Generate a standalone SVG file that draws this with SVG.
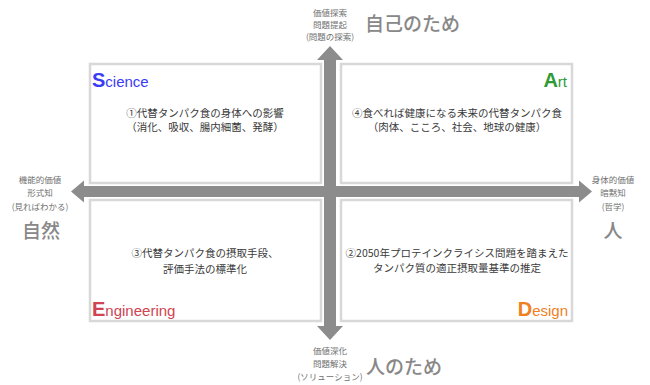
<svg xmlns="http://www.w3.org/2000/svg" width="650" height="385" viewBox="0 0 650 385">
<style>
  text { font-family: "Noto Sans CJK JP", "Liberation Sans", sans-serif; }
  .box { fill: #ffffff; stroke: #d8d8d8; stroke-width: 2.5; }
  .arrow { fill: #8c8c8c; }
  .q { font-size: 10.5px; fill: #3a3a3a; text-anchor: middle; }
  .small { font-size: 8.5px; fill: #707070; text-anchor: middle; }
  .big { font-size: 19px; fill: #888888; font-weight: 500; }
  .lab { font-family: "Liberation Sans", "Noto Sans", sans-serif; font-size: 15px; }
  .cap { font-size: 20px; font-weight: bold; }
</style>
<rect width="650" height="385" fill="#ffffff"/>

<g id="science">
  <rect class="box" x="90" y="64" width="231" height="119"/>
  <text class="lab" x="92" y="87" fill="#3b3bf5"><tspan class="cap">S</tspan>cience</text>
  <text class="q" x="205" y="117">①代替タンパク食の身体への影響</text>
  <text class="q" x="205" y="131">（消化、吸収、腸内細菌、発酵）</text>
</g>

<g id="art">
  <rect class="box" x="341" y="64" width="231" height="119"/>
  <text class="lab" x="567" y="87" fill="#2e9a35" text-anchor="end"><tspan class="cap">A</tspan>rt</text>
  <text class="q" x="457" y="117">④食べれば健康になる未来の代替タンパク食</text>
  <text class="q" x="457" y="131">（肉体、こころ、社会、地球の健康）</text>
</g>

<g id="engineering">
  <rect class="box" x="90" y="200" width="231" height="121"/>
  <text class="lab" x="92" y="316" fill="#cf4450"><tspan class="cap">E</tspan>ngineering</text>
  <text class="q" x="205" y="257">③代替タンパク食の摂取手段、</text>
  <text class="q" x="205" y="273">評価手法の標準化</text>
</g>

<g id="design">
  <rect class="box" x="341" y="200" width="231" height="121"/>
  <text class="lab" x="568" y="316" fill="#f0801e" text-anchor="end"><tspan class="cap">D</tspan>esign</text>
  <text class="q" x="457" y="257">②2050年プロテインクライシス問題を踏まえた</text>
  <text class="q" x="457" y="272">タンパク質の適正摂取量基準の推定</text>
</g>

<g id="connectors">
  <path class="arrow" d="M330,46 L343,60 L336,60 L336,326 L343,326 L330,340 L317,326 L324,326 L324,60 L317,60 Z"/>
  <path class="arrow" d="M71,191.5 L84,180.5 L84,186 L579,186 L579,180.5 L592,191.5 L579,202.5 L579,197 L84,197 L84,202.5 Z"/>
</g>

<g id="top-label">
  <text class="small" x="330" y="16">価値探索</text>
  <text class="small" x="330" y="28">問題提起</text>
  <text class="small" x="330" y="40">(問題の探索)</text>
  <text class="big" x="365" y="31">自己のため</text>
</g>

<g id="left-label">
  <text class="small" x="40" y="183">機能的価値</text>
  <text class="small" x="40" y="196">形式知</text>
  <text class="small" x="40" y="210">(見ればわかる)</text>
  <text class="big" x="41" y="238" text-anchor="middle">自然</text>
</g>

<g id="right-label">
  <text class="small" x="613" y="183">身体的価値</text>
  <text class="small" x="613" y="196">暗黙知</text>
  <text class="small" x="613" y="210">(哲学)</text>
  <text class="big" x="613" y="238" text-anchor="middle">人</text>
</g>

<g id="bottom-label">
  <text class="small" x="330" y="354">価値深化</text>
  <text class="small" x="330" y="367">問題解決</text>
  <text class="small" x="330" y="380">(ソリューション)</text>
  <text class="big" x="366" y="374">人のため</text>
</g>
</svg>
